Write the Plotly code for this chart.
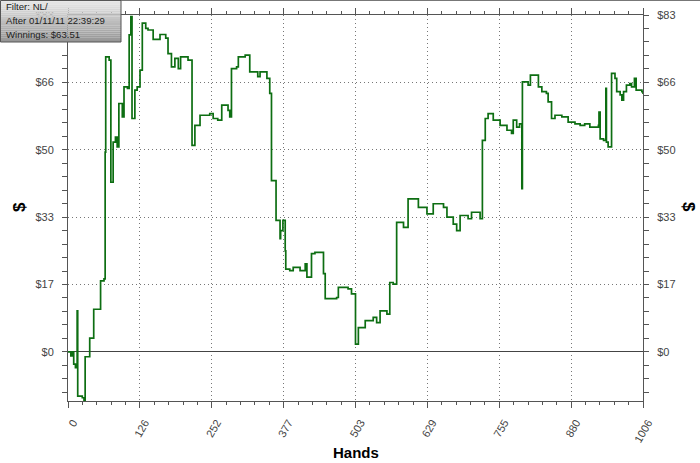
import plotly.graph_objects as go

# ---- data ----
hands = [0, 5, 8, 10, 13, 16, 17, 25, 28, 30, 38, 45, 57, 63, 65, 66, 72, 75, 79, 83,
         86, 89, 95, 98, 104, 107, 110, 112, 117, 121, 126, 130, 136, 140, 149, 161, 171,
         175, 181, 187, 193, 197, 210, 217, 222, 231, 248, 254, 262, 269, 280, 283, 286,
         295, 298, 310, 318, 332, 336, 348, 353, 356, 364, 371, 372, 376, 380, 381, 388,
         394, 406, 415, 418, 426, 432, 447, 450, 470, 473, 490, 496, 503, 508, 520, 534,
         540, 546, 558, 563, 569, 575, 587, 595, 613, 628, 639, 657, 663, 674, 680, 686,
         700, 706, 721, 725, 730, 735, 744, 756, 768, 776, 779, 785, 790, 794, 795, 805,
         809, 823, 829, 837, 840, 846, 852, 864, 875, 887, 896, 904, 913, 928, 929, 931,
         937, 941, 942, 945, 951, 957, 960, 966, 969, 972, 977, 983, 986, 991, 994, 998,
         1004, 1006]
winnings = [0, -1, 0, -3, -3.9, 10.1, -10.9, -11.3, -12.0, -1.2, 3.4, 10.5, 17.5, 18, 49.2,
            72.7, 71.9, 41.8, 51.7, 52.9, 50.5, 61.2, 57.9, 65.3, 64.9, 78.1, 82.6, 57.5,
            64.5, 65.3, 69.4, 81, 79.7, 79.3, 77, 78.2, 77.3, 73.5, 70.2, 72.3, 69.8, 72.7,
            71.9, 50.9, 55.8, 58.3, 58.7, 57.5, 57.1, 60.8, 59.5, 57.9, 69.8, 70.2, 72.7,
            73.1, 69, 67.8, 69, 67.4, 63.7, 42.2, 32.4, 27.9, 29.9, 32.4, 24.9, 20.4, 20,
            20.8, 20, 21.7, 18.4, 24.2, 24.5, 19.3, 13.1, 13.4, 15.9, 15.5, 14.3, 1.9, 6,
            7.7, 8.5, 7.2, 10.1, 9.3, 17.1, 16.7, 31.9, 30.7, 37.7, 35.6, 34, 36.5, 35.6,
            33.2, 31.5, 29.9, 33.6, 32.8, 34.4, 32.8, 52.1, 57.5, 58.7, 57.1, 55.8, 54.6,
            53.8, 57.1, 55.4, 56.2, 40.2, 66.5, 65.7, 68.2, 65.3, 64.1, 63.7, 61.6, 57.5,
            58.3, 57.9, 56.6, 56.2, 55.8, 56.2, 55.4, 55.8, 59.1, 52.5, 52.1, 64.9, 51.7,
            50.5, 68.6, 67.4, 64.1, 63.3, 62, 64.1, 65.7, 66.1, 65.3, 67.4, 64.5, 64.5,
            64.1, 63.51]

x_tickvals = [k * 1006 / 8 for k in range(9)]
x_ticktext = ["0", "126", "252", "377", "503", "629", "755", "880", "1006"]
y_tickvals = [k * 83 / 5 for k in range(6)]
y_ticktext = ["$0", "$17", "$33", "$50", "$66", "$83"]
info_lines = ["Filter: NL/", "After 01/11/11 22:39:29", "Winnings: $63.51"]

# ---- layout geometry (pixels) ----
W, H = 700, 463
L, R, T, B = 68, 57, 15, 62
pw, ph = W - L - R, H - T - B


def px2paper(x, y):
    return (x - L) / pw, (H - B - y) / ph


fig = go.Figure()
fig.add_trace(go.Scatter(x=hands, y=winnings, mode="lines", line_shape="hv",
                         line=dict(color="#0d6e12", width=1.7), hoverinfo="skip",
                         showlegend=False))
fig.add_trace(go.Scatter(x=hands, y=winnings, mode="lines", yaxis="y2",
                         line=dict(color="rgba(0,0,0,0)", width=0), hoverinfo="skip",
                         showlegend=False))

tickfont = dict(family="Liberation Sans, Arial, sans-serif", size=11, color="#444")
axcol = "#555"
griddash = "1px,3px"

fig.update_layout(
    width=W, height=H,
    margin=dict(l=L, r=R, t=T, b=B, autoexpand=False),
    paper_bgcolor="white", plot_bgcolor="white",
    xaxis=dict(range=[0, 1006], tickmode="array", tickvals=x_tickvals, ticktext=x_ticktext,
               tickangle=-60, tickfont=tickfont, ticks="outside", ticklen=6, tickcolor=axcol,
               ticklabelshift=5, ticklabelstandoff=4, automargin=False,
               showline=True, linecolor=axcol, linewidth=1, mirror="ticks",
               showgrid=True, gridcolor="#777", griddash=griddash, gridwidth=1,
               zeroline=False,
               minor=dict(dtick=1006 / 40, tick0=0, ticks="outside", ticklen=3,
                          tickcolor=axcol, showgrid=False)),
    yaxis=dict(range=[-12.1, 83], tickmode="array", tickvals=y_tickvals, ticktext=y_ticktext,
               tickfont=tickfont, ticks="outside", ticklen=5, tickcolor=axcol,
               automargin=False, ticklabelstandoff=6,
               showline=True, linecolor=axcol, linewidth=1,
               showgrid=True, gridcolor="#777", griddash=griddash, gridwidth=1,
               zeroline=True, zerolinecolor="#444", zerolinewidth=1,
               minor=dict(dtick=83 / 25, tick0=0, ticks="outside", ticklen=5,
                          tickcolor=axcol, showgrid=False)),
    yaxis2=dict(range=[-12.1, 83], overlaying="y", side="right", tickmode="array",
                tickvals=y_tickvals, ticktext=y_ticktext, tickfont=tickfont,
                ticks="outside", ticklen=5, tickcolor=axcol, automargin=False,
                ticklabelstandoff=6,
                showline=True, linecolor=axcol, linewidth=1, showgrid=False, zeroline=False,
                minor=dict(dtick=83 / 25, tick0=0, ticks="outside", ticklen=5,
                           tickcolor=axcol, showgrid=False)),
)

# axis titles
title_font = dict(family="Liberation Sans, Arial, sans-serif", size=15, color="#000")
ax, ay = px2paper(356, 452)
fig.add_annotation(x=ax, y=ay, xref="paper", yref="paper", text="<b>Hands</b>",
                   showarrow=False, font=title_font, xanchor="center", yanchor="middle")
ax, ay = px2paper(19, 207)
fig.add_annotation(x=ax, y=ay, xref="paper", yref="paper", text="<b>$</b>",
                   textangle=-90, showarrow=False, font=dict(title_font, size=17),
                   xanchor="center", yanchor="middle")
ax, ay = px2paper(689, 207)
fig.add_annotation(x=ax, y=ay, xref="paper", yref="paper", text="<b>$</b>",
                   textangle=90, showarrow=False, font=dict(title_font, size=17),
                   xanchor="center", yanchor="middle")

# top border line of the window
x0, y0 = px2paper(121, 0.5)
x1, _ = px2paper(700, 0.5)
fig.add_shape(type="line", xref="paper", yref="paper", x0=x0, x1=x1, y0=y0, y1=y0,
              line=dict(color="#777", width=1), layer="above")

# info box with vertical grey gradient
bx0, by0, bx1, by1 = 0, 0, 121, 42
nb = 20
for i in range(nb):
    t = i / (nb - 1)
    c = int(232 - t * (232 - 150))
    ya = by0 + (by1 - by0) * i / nb
    yb = by0 + (by1 - by0) * (i + 1) / nb
    p0 = px2paper(bx0, ya)
    p1 = px2paper(bx1, yb)
    fig.add_shape(type="rect", xref="paper", yref="paper", x0=p0[0], x1=p1[0],
                  y0=p0[1], y1=p1[1], fillcolor=f"rgb({c},{c},{c})",
                  line=dict(width=0), layer="above")
p0 = px2paper(bx0 + 0.5, by0 + 0.5)
p1 = px2paper(bx1, by1)
fig.add_shape(type="rect", xref="paper", yref="paper", x0=p0[0], x1=p1[0], y0=p0[1],
              y1=p1[1], line=dict(color="#555", width=1), fillcolor="rgba(0,0,0,0)",
              layer="above")
for i, line in enumerate(info_lines):
    tx, ty = px2paper(5, 7 + i * 13.7)
    fig.add_annotation(x=tx, y=ty, xref="paper", yref="paper", text=line, showarrow=False,
                       xanchor="left", yanchor="middle", borderpad=0,
                       font=dict(family="Liberation Sans, Arial, sans-serif", size=9.6,
                                 color="#222"))

fig.write_html("out.html", config={"displayModeBar": False},
               post_script="document.body.style.margin='0px';document.body.style.overflow='hidden';")
